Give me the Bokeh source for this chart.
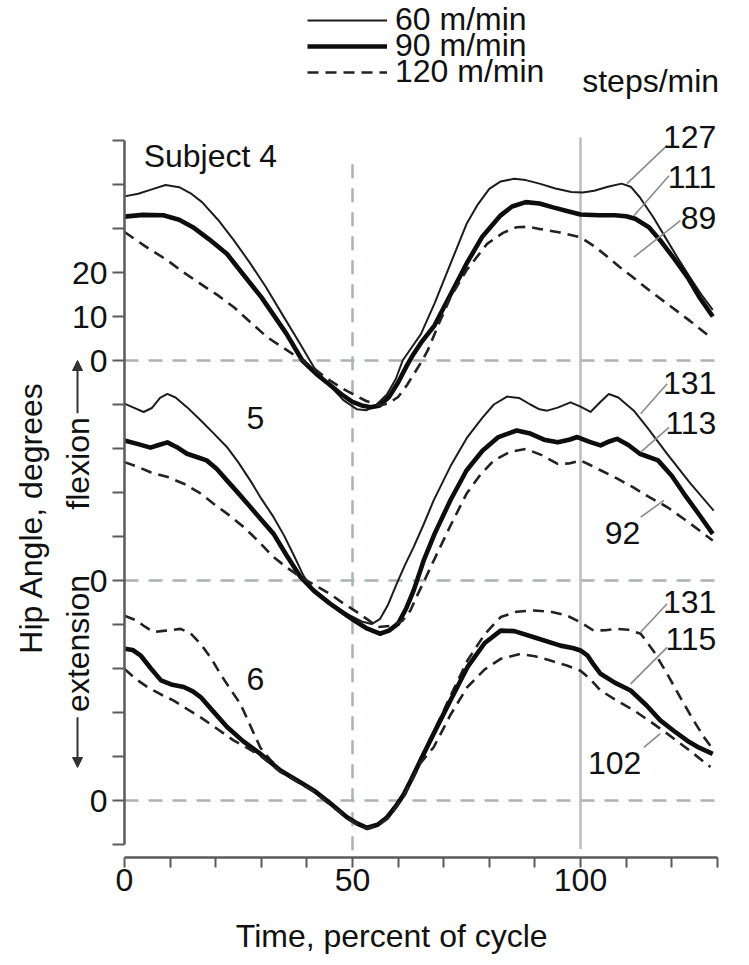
import math
from bokeh.plotting import figure
from bokeh.models import (Range1d, FixedTicker, LinearAxis, Legend, LegendItem,
                          Arrow, NormalHead)
from bokeh.core.properties import value
from bokeh.embed import file_html
from bokeh.resources import INLINE

FONT = "Liberation Sans"
FS = "32px"

# ---- hip angle (degrees) against time (percent of gait cycle) ----
# Subject 4
s4_thin_x = [0, 3, 6, 9, 12, 14.5, 17, 20.5, 24, 27.5, 31, 35, 38.5, 41.5, 45, 48, 51, 53, 55,
             57.5, 59.5, 61, 63, 65, 68, 71.5, 75, 77.5, 80, 82.5, 85.5, 88, 91, 94.5, 98,
             100.5, 103, 106, 109, 111, 113, 116, 119, 121.5, 124, 126.5, 129]
s4_thin_y = [37.3, 37.9, 38.9, 39.9, 39.4, 38, 36, 32, 27.3, 22.2, 16.7, 9.8, 3.8, -1.5, -5.7,
             -9, -11.1, -11.3, -10.3, -7.8, -4.2, 0, 3, 6, 13, 22, 31, 35.5, 39, 40.7, 41.3, 41,
             40.2, 39.1, 38.3, 38.2, 38.6, 39.5, 40.2, 39.5, 37.1, 32.5, 27.3, 23, 18.9, 15,
             11.5]
s4_thick_x = [0, 4, 8.5, 12, 15, 18.5, 22.5, 26, 30, 35.5, 39, 42, 45, 48, 50, 52, 54, 56, 58,
              60, 62, 63.4, 65, 68, 71.5, 75, 78.5, 82.5, 85, 88, 91, 94, 97, 100, 104, 107.5,
              110, 112, 115, 117.5, 120.5, 123.5, 126, 129]
s4_thick_y = [32.7, 33.1, 33, 32, 30.3, 27.6, 24.2, 19.6, 14.4, 6.1, 0, -3, -5.5, -8, -9.4,
              -10.2, -10.6, -10.2, -8.3, -5, -1, 1.5, 4, 8, 15, 22, 28.2, 33, 35, 36, 35.7,
              34.8, 34, 33.2, 33, 33, 32.8, 32.2, 30.3, 27.3, 23.2, 18.9, 14.5, 10]
s4_dash_x = [0, 4.5, 9.5, 13, 16.7, 20.5, 24, 27.5, 31.3, 35.7, 39, 42, 45, 48, 50, 53, 56, 58,
             60, 62, 63.5, 65, 66.5, 69, 71.5, 75, 79.5, 83, 86, 88.5, 91, 95.5, 100, 103, 106,
             108.5, 111.5, 115, 119, 124, 128.5]
s4_dash_y = [29.2, 26, 22.7, 20, 17.4, 14.8, 12.1, 8.8, 5.3, 2.3, 0, -2.2, -4.5, -6.5, -7.6,
             -9.2, -10.2, -9.7, -8.3, -5.5, -3, -0.5, 2.3, 8.5, 14.4, 20.5, 26.5, 29, 30.3, 30.4,
             29.9, 29.1, 28, 26, 23.5, 21.3, 18.9, 16, 12.9, 9, 5.3]

# Subject 5
s5_thin_x = [0, 2, 4.2, 6, 7.8, 9.4, 11.2, 13.7, 16.7, 19.5, 22.5, 25, 27.6, 30, 32.7, 35, 37.1,
             39.3, 41.5, 45, 48.8, 52, 54.2, 56, 57.8, 59.8, 61.5, 63.4, 65.5, 67.8, 71.5, 75.2,
             78.5, 81, 83.9, 86.5, 89, 91, 92.7, 95, 97.8, 100, 102.2, 104.3, 106.2, 108.3,
             111.7, 115, 119, 124, 129.2]
s5_thin_y = [40.2, 39.3, 38.3, 39.2, 41.5, 42.4, 41.6, 39.4, 36.4, 33.5, 30.3, 26.8, 22.7, 18.6,
             14.4, 10.2, 5.8, 1, -2.3, -5, -7.6, -9.3, -9.9, -8.8, -5.5, -0.5, 3.5, 7.6, 12.5,
             18.2, 26, 32.6, 37, 40, 41.8, 41.5, 40, 38.9, 38.6, 39.3, 40.5, 39.5, 38.3, 40.5,
             42.4, 41.6, 38.6, 34.3, 28.8, 22.2, 15.9]
s5_thick_x = [0, 3, 5.7, 7.5, 9.4, 11.5, 13.7, 16, 18, 20.2, 22.5, 25, 27.6, 30, 32.7, 35.5,
              38.6, 41.5, 45, 48.8, 51, 53, 56, 58, 60, 61.8, 63.4, 65.6, 68, 71.5, 75, 78.5,
              82, 86, 89, 92, 95, 97.5, 99.3, 102, 104.4, 106.3, 108, 110.5, 113, 117, 120,
              122.7, 126, 129]
s5_thick_y = [31.8, 31, 30.2, 30.8, 31.4, 30.3, 28.8, 28, 27.3, 25.4, 22.7, 19.8, 16.7, 13.8,
              10.6, 5.8, 0.8, -2.3, -5.2, -8, -9.5, -10.8, -12.1, -11.4, -9.8, -6.3, -2.3, 4.5,
              10.6, 18.3, 25, 29.5, 32.6, 34.1, 33.4, 32, 31.4, 32, 32.6, 31.5, 30.7, 31.6, 32.2,
              30.8, 28.8, 27.3, 23.8, 19.7, 15, 10.6]
s5_dash_x = [0, 3, 5.7, 9.5, 13, 16.5, 19.6, 23, 26.2, 29.5, 32.7, 35.8, 38.6, 42, 45, 48, 51,
             53.5, 55.5, 58.5, 61, 62.7, 64, 66, 67.8, 71.5, 75, 78, 81, 84.5, 88, 91.5, 95,
             97.5, 100, 102, 104.5, 108, 111.5, 115, 119, 124, 129]
s5_dash_y = [26.9, 25.8, 24.6, 23.5, 22, 19.9, 17.4, 14.8, 12.1, 8.8, 5.3, 2.8, 0.8, -1.2, -3,
             -5.2, -7.2, -9, -10.6, -10.3, -9.1, -6.8, -3.8, 0.5, 4.5, 12.5, 19.7, 24, 27.3,
             29.2, 29.9, 28.5, 26.5, 26.6, 27.3, 26.3, 25, 23.2, 21.2, 19, 16.7, 13, 9.1]

# Subject 6
s6_thick_x = [0, 1.8, 3.5, 5.8, 8, 10.5, 13, 15, 16.7, 19.5, 22.5, 26, 29.8, 34.2, 38, 41.5, 45,
              48.8, 51, 53.2, 55.5, 57.6, 59.5, 61.3, 63, 64.9, 67.8, 71.5, 75.2, 79, 82.5,
              85.5, 89.8, 95.6, 98.5, 100, 101.5, 102.8, 104.4, 107.5, 111, 114.5, 117.5, 120.5,
              123.4, 126, 129]
s6_thick_y = [34.5, 34.2, 33, 30, 27.3, 26.3, 25.8, 24.8, 23.5, 20.2, 16.7, 13.5, 10.6, 6.8,
              4.5, 2.3, -0.5, -3.8, -5.2, -6.2, -5.5, -3.8, -1.3, 1.5, 5, 9.1, 15.2, 22.8, 30.3,
              35.8, 38.6, 38.5, 37.1, 35.2, 34.6, 34.1, 33, 31, 28.8, 26.8, 25, 21.6, 18.2, 15.8,
              13.6, 12, 10.6]
s6_dash_hi_x = [0, 2.5, 4.5, 6.4, 9, 12.3, 14.5, 16.7, 19, 21, 23.2, 25.4, 27.6, 29.8, 32, 34.2,
                38, 41.5, 45, 48.8, 51, 53.2, 55.5, 57.6, 59.5, 61.3, 63, 64.9, 67.8, 71.5, 75.2,
                79, 82.5, 86, 89.8, 93.5, 97.1, 100, 102.9, 105.5, 108, 110.5, 113.2, 116, 119,
                122, 124.8, 127, 129.2]
s6_dash_hi_y = [42, 41, 39.5, 38.3, 38.6, 39, 38, 35.6, 32.3, 28.8, 25.3, 22, 17, 12, 9.2, 7,
                4.5, 2.3, -0.7, -3.8, -5.4, -6.5, -5.6, -4, -1.3, 1.5, 5.2, 9.5, 15.5, 23.8,
                31.8, 37.8, 41.7, 42.9, 43.2, 42.9, 42, 40.5, 38.6, 38.7, 39, 38.8, 37.9, 34,
                28.8, 23.2, 18.2, 14.5, 11.4]
s6_dash_lo_x = [0, 2.5, 5, 8, 10.8, 13.7, 16.7, 20.3, 24, 27, 29.8, 34.2, 38, 41.5, 45, 48.8, 51,
                53.2, 55.5, 57.6, 59.5, 61.3, 63, 64.9, 67.8, 71.5, 75.2, 79, 82.5, 86.8, 90,
                93.4, 97, 100, 102.2, 104.4, 108, 111.7, 115.5, 119, 124, 128.5]
s6_dash_lo_y = [29.9, 27.6, 25.8, 24.1, 22.7, 20.8, 18.9, 16.3, 13.6, 11.9, 10.2, 6.5, 4.2, 2,
                -0.9, -4, -5.5, -6.5, -5.7, -4.2, -1.6, 1, 4.5, 8.5, 12.1, 19.5, 25.8, 29.8,
                32.2, 33.3, 32.8, 31.8, 30.7, 29.5, 27.5, 25, 22.7, 20.5, 17.8, 15.2, 11.3, 7.6]

# cadence of each trace, steps/min (top to bottom at the right end)
s4_steps = ["127", "111", "89"]
s5_steps = ["131", "113", "92"]
s6_steps = ["131", "115", "102"]

speeds = ["60 m/min", "90 m/min", "120 m/min"]
subject_names = ["Subject 4", "5", "6"]

x_ticks = list(range(0, 131, 10))
x_tick_text = {0: "0", 50: "50", 100: "100"}
y_ticks = list(range(-10, 151, 10))
y_tick_text = {0: "0", 50: "0", 100: "0", 110: "10", 120: "20"}

# ---- figure: the frame fills the canvas, axes sit at fixed data locations ----
W, H = 749, 965
p = figure(width=W, height=H, x_range=Range1d(-27.19, 137.06), y_range=Range1d(-37.5, 181.82),
           x_axis_type=None, y_axis_type=None, output_backend="svg", toolbar_location=None,
           min_border=0)
p.outline_line_color = None
p.background_fill_color = "white"

# vertical stacking of the three subjects
OFF4, OFF5, OFF6 = 100, 50, 0

AX = "#5a5a5a"
xaxis = LinearAxis(bounds=(0, 130), ticker=FixedTicker(ticks=x_ticks), fixed_location=-12.95)
xaxis.major_label_overrides = {t: x_tick_text.get(t, "") for t in x_ticks}
yaxis = LinearAxis(bounds=(-10, 150), ticker=FixedTicker(ticks=y_ticks), fixed_location=0)
yaxis.major_label_overrides = {t: y_tick_text.get(t, "") for t in y_ticks}
for ax in (xaxis, yaxis):
    ax.axis_line_color = AX
    ax.axis_line_width = 2.5
    ax.major_tick_line_color = AX
    ax.major_tick_line_width = 2
    ax.major_tick_in = 0
    ax.minor_tick_line_color = None
    ax.major_label_text_font = FONT
    ax.major_label_text_font_size = FS
    ax.major_label_text_color = "#111111"
xaxis.major_tick_out = 10
xaxis.major_label_standoff = 2
yaxis.major_tick_out = 12
yaxis.major_label_standoff = 5
p.add_layout(xaxis, "below")
p.add_layout(yaxis, "left")

# reference lines: zero of each subject, 50 % and 100 % of cycle
REF = "#aab3b3"
zeros = [OFF4, OFF5, OFF6]
p.segment(x0=[xaxis.bounds[0]] * 3, x1=[xaxis.bounds[1]] * 3, y0=zeros, y1=zeros,
          line_color=REF, line_width=2.5, line_dash="14 10")
p.segment(x0=[50], x1=[50], y0=[-11.3], y1=[144.8], line_color=REF, line_width=2.5,
          line_dash="14 10")
p.segment(x0=[100], x1=[100], y0=[-11], y1=[150.7], line_color="#bdbdbd", line_width=2.5)

THIN = dict(line_color="#1c1c1c", line_width=2.0, line_join="round")
THICK = dict(line_color="#0d0d0d", line_width=4.6, line_join="round")
DASH = dict(line_color="#222222", line_width=2.6, line_dash="11 7", line_join="round")


def shifted(ys, off):
    return [v + off for v in ys]


r_thin = p.line(s4_thin_x, shifted(s4_thin_y, OFF4), **THIN)
r_thick = p.line(s4_thick_x, shifted(s4_thick_y, OFF4), **THICK)
r_dash = p.line(s4_dash_x, shifted(s4_dash_y, OFF4), **DASH)

p.line(s5_thin_x, shifted(s5_thin_y, OFF5), **THIN)
p.line(s5_thick_x, shifted(s5_thick_y, OFF5), **THICK)
p.line(s5_dash_x, shifted(s5_dash_y, OFF5), **DASH)

p.line(s6_dash_hi_x, shifted(s6_dash_hi_y, OFF6), **DASH)
p.line(s6_thick_x, shifted(s6_thick_y, OFF6), **THICK)
p.line(s6_dash_lo_x, shifted(s6_dash_lo_y, OFF6), **DASH)

# leader lines from cadence labels to their traces
LEAD = "#8a8a8a"
p.segment(x0=[119.0, 119.4, 121.9, 119.0, 119.4, 113.2, 119.0, 119.0, 113.9],
          y0=[148.9, 142.0, 131.8, 94.7, 84.8, 64.4, 44.7, 34.8, 12.1],
          x1=[110.2, 111.7, 111.7, 113.2, 113.2, 118.3, 113.2, 111.0, 117.5],
          y1=[140.2, 132.9, 123.5, 87.9, 79.2, 68.2, 38.3, 26.5, 15.2],
          line_color=LEAD, line_width=1.6)

TXT = dict(text_font=value(FONT), text_font_size=FS, text_color="#111111",
           text_baseline="middle")
right_labels = [s4_steps[0], s4_steps[1], s4_steps[2], s5_steps[0], s5_steps[1],
                s6_steps[0], s6_steps[1]]
p.text(x=[129.8] * 7, y=[150.9, 141.8, 132.5, 95.0, 85.9, 45.2, 36.6], text=right_labels,
       text_align="right", **TXT)
p.text(x=[109.2, 107.5], y=[60.7, 8.6], text=[s5_steps[2], s6_steps[2]],
       text_align="center", **TXT)
p.text(x=[130.4], y=[163.6], text=["steps/min"], text_align="right", **TXT)
p.text(x=[4.2], y=[146.4], text=[subject_names[0]], text_align="left", **TXT)
p.text(x=[28.7, 28.7], y=[87.0, 27.7], text=subject_names[1:], text_align="center", **TXT)

# axis titles
p.text(x=[58.6], y=[-30.9], text=["Time, percent of cycle"], text_align="center", **TXT)
p.text(x=[-20.6], y=[64.3], text=["Hip Angle, degrees"], angle=math.pi / 2,
       text_align="center", **TXT)
p.text(x=[-10.3, -10.3], y=[35.7, 76.6], text=["extension", "flexion"], angle=math.pi / 2,
       text_align="center", **TXT)
for y0, y1 in ((18.9, 7.5), (88.0, 100.0)):
    p.add_layout(Arrow(x_start=-10.3, y_start=y0, x_end=-10.3, y_end=y1, line_width=2,
                       line_color="#333333",
                       end=NormalHead(size=10, fill_color="#333333", line_color="#333333")))

# speed legend, one row per walking speed
for k, (lab, rend) in enumerate(zip(speeds, [r_thin, r_thick, r_dash])):
    row_center = 20 + 26 * k
    lg = Legend(items=[LegendItem(label=lab, renderers=[rend])],
                location=(307, H - row_center - 18), orientation="vertical",
                glyph_width=80, glyph_height=20, label_height=20, label_standoff=8,
                padding=0, margin=0, spacing=0,
                border_line_color=None, background_fill_alpha=0,
                label_text_font=FONT, label_text_font_size=FS, label_text_color="#111111")
    p.add_layout(lg, "center")

open("out.html", "w").write(file_html(p, INLINE))
